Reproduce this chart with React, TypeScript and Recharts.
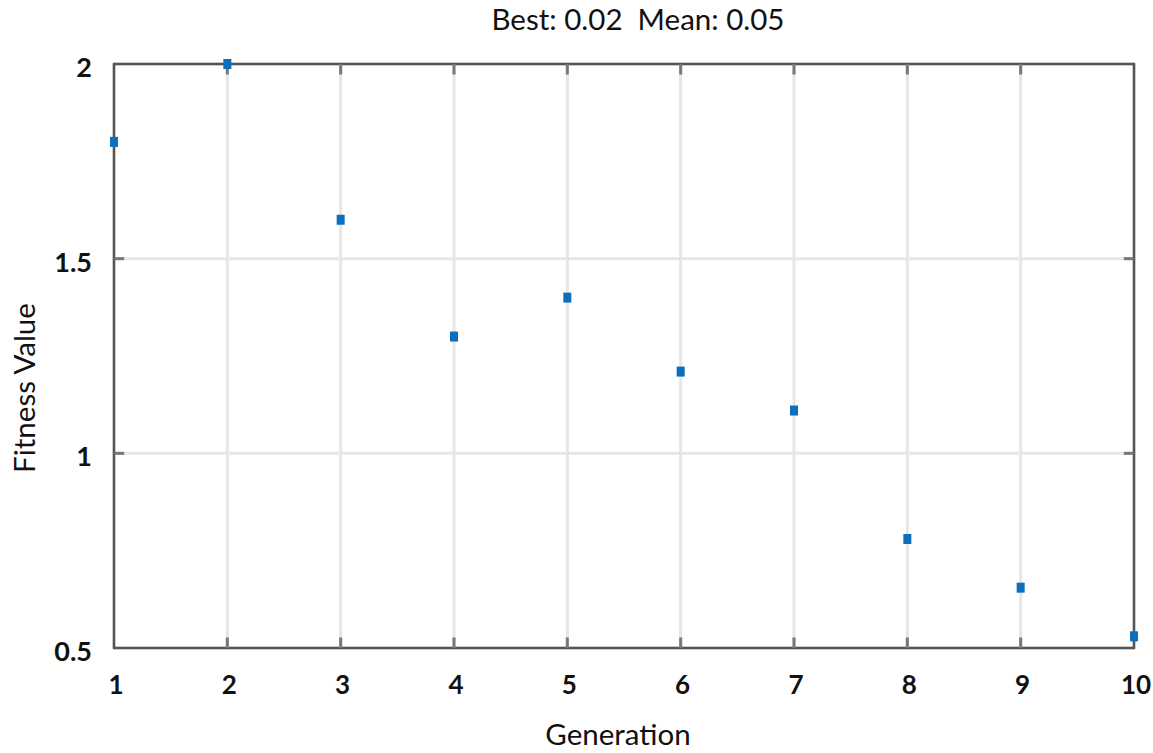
import {
  ScatterChart, Scatter, XAxis, YAxis, CartesianGrid, ReferenceArea, ReferenceLine,
} from "recharts";

const generations = [1, 2, 3, 4, 5, 6, 7, 8, 9, 10];
const fitness = [1.8, 2.0, 1.6, 1.3, 1.4, 1.21, 1.11, 0.78, 0.655, 0.53];
const yTicks = [0.5, 1, 1.5, 2];
const titleText = "Best: 0.02  Mean: 0.05";

const data = generations.map((g, i) => ({ g, v: fitness[i] }));

const FONT = "Lato, sans-serif";

const Marker = (props: any) => {
  const { cx, cy } = props;
  return <rect x={cx - 4} y={cy - 5} width={8} height={10} fill="#0b6fbd" />;
};

const XTick = ({ x, y, payload }: any) => (
  <text x={x + 2} y={y} dy={36} textAnchor="middle" fontFamily={FONT} fontWeight={700}
    fontSize={26} fill="#111">
    {payload.value}
  </text>
);

const YTick = ({ x, y, payload }: any) => (
  <text x={x} y={y} dy={13} textAnchor="end" fontFamily={FONT} fontWeight={700}
    fontSize={27} fill="#111">
    {payload.value}
  </text>
);

export default function App() {
  const tickLen = 0.027; // inner tick length in data units (y)
  const tickLenX = 0.09;
  return (
    <div style={{ position: "absolute", left: 0, top: 0, width: 1153, height: 753, background: "#fff" }}>
      <div style={{
        position: "absolute", left: 638, top: 1, transform: "translateX(-50%)",
        fontFamily: FONT, fontSize: 29.5, color: "#111", whiteSpace: "pre",
      }}>{titleText}</div>
      <div style={{
        position: "absolute", left: 618, top: 716, transform: "translateX(-50%)",
        fontFamily: FONT, fontSize: 29.5, color: "#111",
      }}>Generation</div>
      <div style={{
        position: "absolute", left: 23, top: 388, transform: "translate(-50%, -50%) rotate(-90deg)",
        fontFamily: FONT, fontSize: 29.5, color: "#111", whiteSpace: "nowrap",
      }}>Fitness Value</div>
      <ScatterChart width={1153} height={753} margin={{ top: 64, right: 19, bottom: 65, left: 54 }}>
        <CartesianGrid stroke="#e6e6e6" strokeWidth={3}
          horizontalValues={yTicks} verticalValues={generations} />
        <XAxis type="number" dataKey="g" domain={[1, 10]} ticks={generations} height={40}
          axisLine={false} tickLine={false} tick={<XTick />} tickMargin={4} interval={0} />
        <YAxis type="number" dataKey="v" domain={[0.5, 2]} ticks={yTicks} width={60}
          axisLine={false} tickLine={false} tick={<YTick />} tickMargin={16} interval={0} />
        {generations.slice(1, -1).map((g) => (
          <ReferenceLine key={"b" + g} segment={[{ x: g, y: 0.5 }, { x: g, y: 0.5 + tickLen }]}
            stroke="#777" strokeWidth={3} />
        ))}
        {generations.slice(1, -1).map((g) => (
          <ReferenceLine key={"t" + g} segment={[{ x: g, y: 2 }, { x: g, y: 2 - tickLen }]}
            stroke="#777" strokeWidth={3} />
        ))}
        {yTicks.slice(1, -1).map((t) => (
          <ReferenceLine key={"l" + t} segment={[{ x: 1, y: t }, { x: 1 + tickLenX, y: t }]}
            stroke="#777" strokeWidth={3} />
        ))}
        {yTicks.slice(1, -1).map((t) => (
          <ReferenceLine key={"r" + t} segment={[{ x: 10, y: t }, { x: 10 - tickLenX, y: t }]}
            stroke="#777" strokeWidth={3} />
        ))}
        <ReferenceArea x1={1} x2={10} y1={0.5} y2={2} fill="none" stroke="#555" strokeWidth={2.5} />
        <Scatter data={data} shape={<Marker />} isAnimationActive={false} />
      </ScatterChart>
    </div>
  );
}
